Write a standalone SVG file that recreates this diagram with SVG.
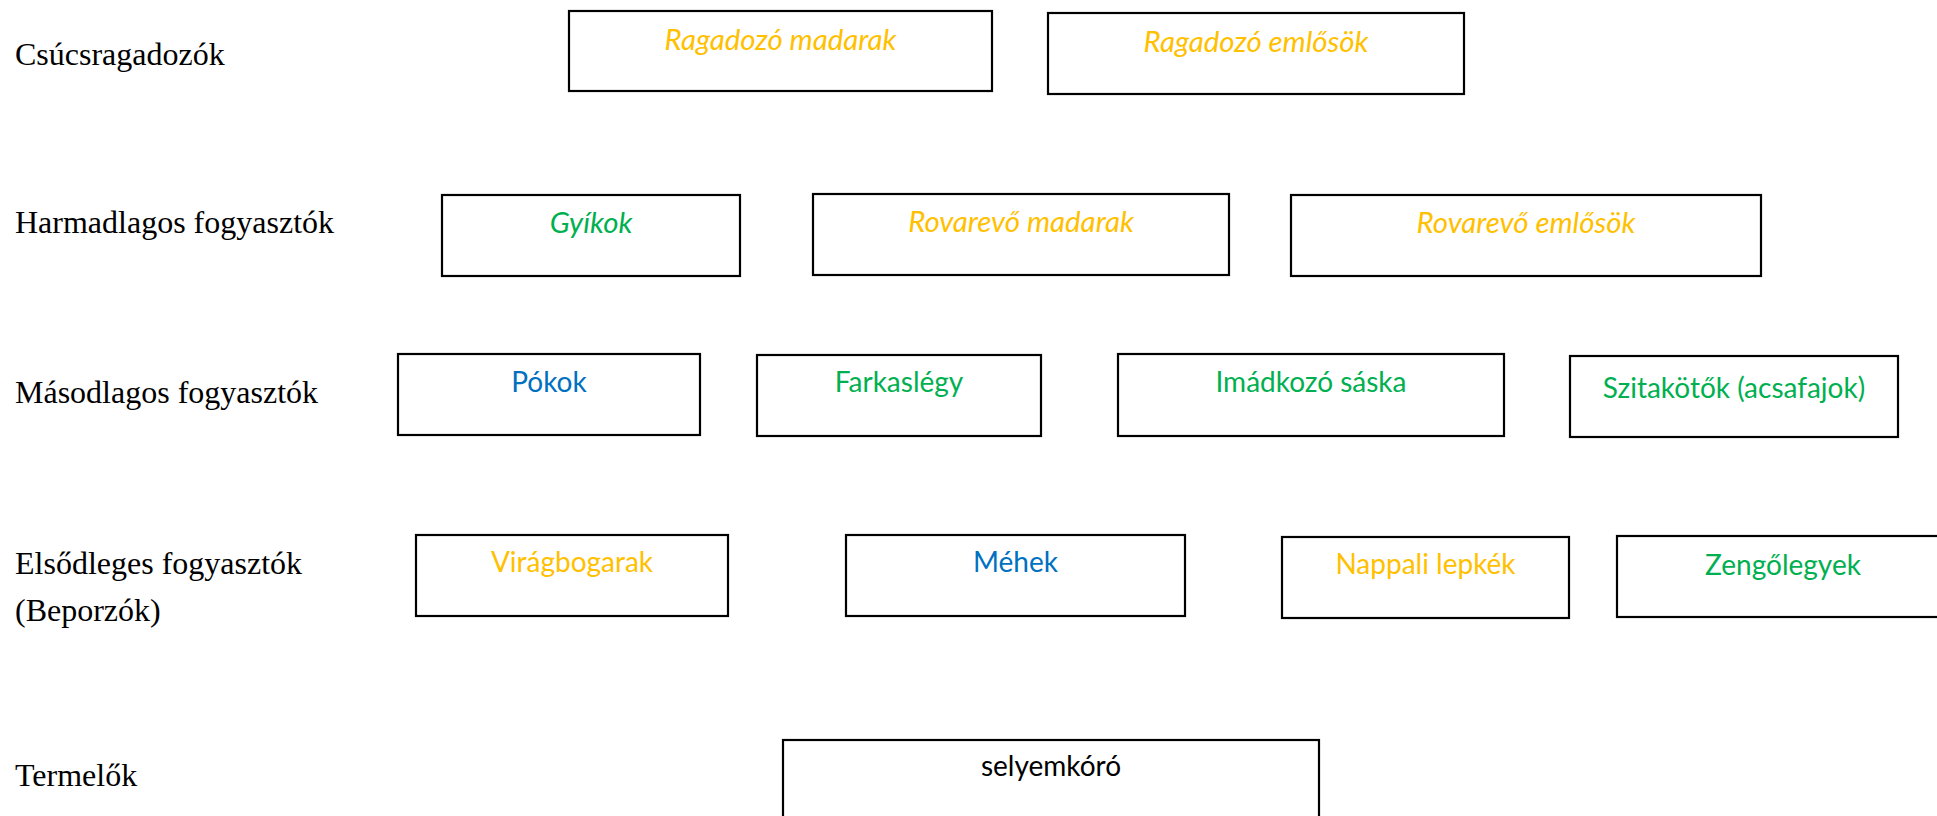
<svg xmlns="http://www.w3.org/2000/svg" width="1937" height="816" viewBox="0 0 1937 816">
<style>
.lbl{font-family:"Liberation Serif","Times New Roman",serif;font-size:32px;fill:#000}
.box{fill:#fff;stroke:#000;stroke-width:2.2}
.t{font-family:Lato,"Open Sans",sans-serif;font-size:28px;text-anchor:middle}
.i{font-style:italic;font-size:29.4px}
.o{fill:#FFC000}
.g{fill:#00B050}
.b{fill:#0070C0}
.k{fill:#000}
</style>
<rect width="1937" height="816" fill="#fff"/>
<g id="labels">
<text class="lbl" x="15" y="65">Csúcsragadozók</text>
<text class="lbl" x="15" y="233">Harmadlagos fogyasztók</text>
<text class="lbl" x="15" y="403">Másodlagos fogyasztók</text>
<text class="lbl" x="15" y="574">Elsődleges fogyasztók</text>
<text class="lbl" x="15" y="621">(Beporzók)</text>
<text class="lbl" x="15" y="786">Termelők</text>
</g>
<g id="connectors"></g>
<g id="n1"><rect class="box" x="569" y="11" width="423" height="80"/><text class="t i o" x="780.5" y="50">Ragadozó madarak</text></g>
<g id="n2"><rect class="box" x="1048" y="13" width="416" height="81"/><text class="t i o" x="1256" y="52">Ragadozó emlősök</text></g>
<g id="n3"><rect class="box" x="442" y="195" width="298" height="81"/><text class="t i g" x="591" y="233">Gyíkok</text></g>
<g id="n4"><rect class="box" x="813" y="194" width="416" height="81"/><text class="t i o" x="1021" y="232">Rovarevő madarak</text></g>
<g id="n5"><rect class="box" x="1291" y="195" width="470" height="81"/><text class="t i o" x="1526" y="233">Rovarevő emlősök</text></g>
<g id="n6"><rect class="box" x="398" y="354" width="302" height="81"/><text class="t b" x="549" y="392">Pókok</text></g>
<g id="n7"><rect class="box" x="757" y="355" width="284" height="81"/><text class="t g" x="899" y="392">Farkaslégy</text></g>
<g id="n8"><rect class="box" x="1118" y="354" width="386" height="82"/><text class="t g" x="1311" y="392">Imádkozó sáska</text></g>
<g id="n9"><rect class="box" x="1570" y="356" width="328" height="81"/><text class="t g" x="1734" y="398">Szitakötők (acsafajok)</text></g>
<g id="n10"><rect class="box" x="416" y="535" width="312" height="81"/><text class="t o" x="572" y="572">Virágbogarak</text></g>
<g id="n11"><rect class="box" x="846" y="535" width="339" height="81"/><text class="t b" x="1015.5" y="572">Méhek</text></g>
<g id="n12"><rect class="box" x="1282" y="537" width="287" height="81"/><text class="t o" x="1425.5" y="574">Nappali lepkék</text></g>
<g id="n13"><rect class="box" x="1617" y="536" width="340" height="81"/><text class="t g" x="1783" y="575">Zengőlegyek</text></g>
<g id="n14"><rect class="box" x="783" y="740" width="536" height="100"/><text class="t k" x="1051" y="776">selyemkóró</text></g>
</svg>
